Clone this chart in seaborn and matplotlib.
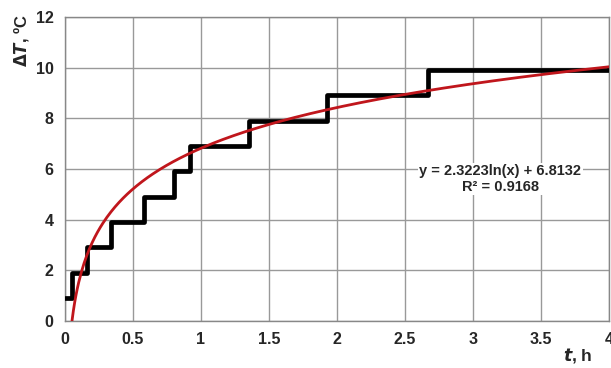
import numpy as np
import pandas as pd
import seaborn as sns
import matplotlib.pyplot as plt

# step readings: time where each level starts (h) and the level (deg C)
step_t = [0.0, 0.05, 0.16, 0.34, 0.58, 0.80, 0.92, 1.35, 1.93, 2.67, 4.0]
step_dT = [0.9, 1.9, 2.9, 3.9, 4.9, 5.9, 6.9, 7.9, 8.9, 9.9, 9.95]

# logarithmic trend line from the chart: y = a*ln(x) + b
fit_a = 2.3223
fit_b = 6.8132
fit_r2 = 0.9168

sns.set_style("whitegrid")
plt.rcParams['font.family'] = ['Liberation Sans', 'DejaVu Sans']
plt.rcParams['font.weight'] = 'bold'

fig = plt.figure(figsize=(6.11, 3.68), dpi=100)
ax = fig.add_axes([0.106, 0.128, 0.891, 0.826])

steps = pd.DataFrame({'t': step_t, 'dT': step_dT})
ax.step(steps['t'], steps['dT'], where='post', color='black', lw=3.4, zorder=3)

x0 = np.exp(-fit_b / fit_a)
tt = np.linspace(x0, 4.0, 400)
trend = pd.DataFrame({'t': tt, 'dT': fit_a * np.log(tt) + fit_b})
sns.lineplot(x='t', y='dT', data=trend, color='#c0161c', lw=2, ax=ax, zorder=4)

ax.set(xlim=(0, 4), ylim=(0, 12))
ax.set_xticks(np.arange(0, 4.01, 0.5))
ax.set_xticklabels(['0', '0.5', '1', '1.5', '2', '2.5', '3', '3.5', '4'])
ax.set_yticks(range(0, 13, 2))
ax.grid(True, color='#999999', lw=1)
for s in ax.spines.values():
    s.set_visible(True)
    s.set_color('#888888')
    s.set_linewidth(1)
ax.tick_params(labelsize=11.5, length=4, color='#888888', pad=4)
for lab in ax.get_xticklabels() + ax.get_yticklabels():
    lab.set_fontweight('bold')
ax.set_xlabel('')
ax.set_ylabel('')

fig.text(0.035, 0.89, r'$\Delta$' + r'$\it{T}$' + ', ºC', rotation=90,
         ha='center', va='center', fontsize=12, fontweight='bold')
fig.text(0.945, 0.035, r'$\it{t}$' + ', h', ha='center', va='center',
         fontsize=12.5, fontweight='bold')

ax.text(3.2, 5.6, 'y = %.4fln(x) + %.4f\nR² = %.4f' % (fit_a, fit_b, fit_r2),
        ha='center', va='center', fontsize=10.5, fontweight='bold',
        linespacing=1.1, bbox=dict(fc='white', ec='none', pad=1))

plt.savefig('out.png', dpi=100, facecolor='w')
